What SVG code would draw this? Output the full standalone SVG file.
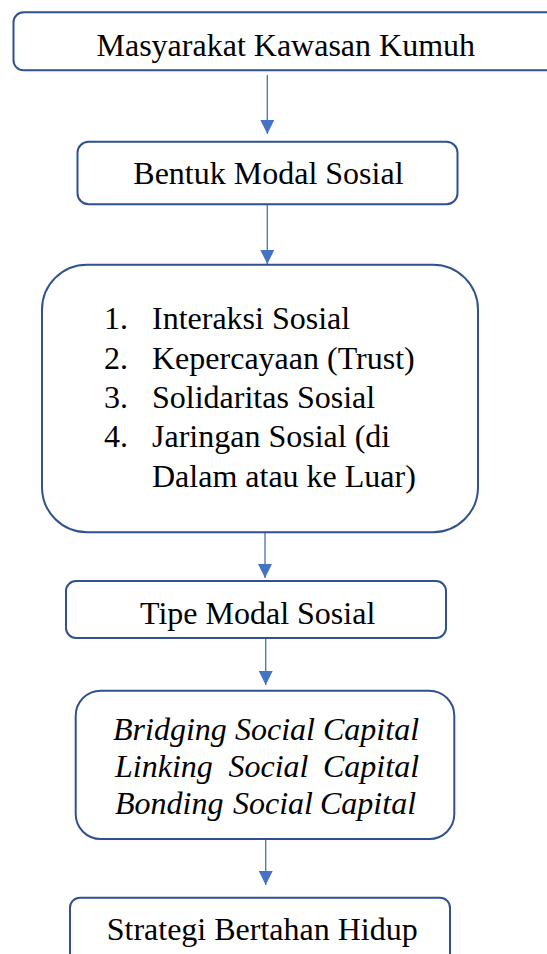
<svg xmlns="http://www.w3.org/2000/svg" width="547" height="954" viewBox="0 0 547 954">
<style>
.box{fill:#ffffff;stroke:#2F528F;stroke-width:2}
text{font-family:'Liberation Serif','Times New Roman','DejaVu Serif',serif;font-size:32px;fill:#000000}
.i{font-style:italic}
.c{stroke:#4472C4;stroke-width:1.3;fill:none}
</style>
<defs>
<marker id="ah" markerWidth="14" markerHeight="14" viewBox="0 0 14 14" refX="14" refY="7" orient="auto" markerUnits="userSpaceOnUse">
<path d="M0,0 L14,7 L0,14 Z" fill="#4472C4"/>
</marker>
</defs>
<rect width="547" height="954" fill="#ffffff"/>
<g id="connectors">
<line class="c" x1="267.3" y1="75" x2="267.3" y2="134" marker-end="url(#ah)"/>
<line class="c" x1="267.3" y1="204" x2="267.3" y2="264" marker-end="url(#ah)"/>
<line class="c" x1="265" y1="532.5" x2="265" y2="578" marker-end="url(#ah)"/>
<line class="c" x1="265.7" y1="638.5" x2="265.7" y2="685" marker-end="url(#ah)"/>
<line class="c" x1="265.7" y1="839" x2="265.7" y2="885" marker-end="url(#ah)"/>
</g>
<g id="node-masyarakat">
<rect class="box" x="13.5" y="12.3" width="552" height="58" rx="10"/>
<text font-family="Liberation Serif, serif" x="96.5" y="56">Masyarakat Kawasan Kumuh</text>
</g>
<g id="node-bentuk">
<rect class="box" x="77.5" y="141.7" width="380" height="62.5" rx="11"/>
<text font-family="Liberation Serif, serif" x="133.3" y="184.3">Bentuk Modal Sosial</text>
</g>
<g id="node-list">
<rect class="box" x="42" y="264.7" width="436" height="267.5" rx="45"/>
<text font-family="Liberation Serif, serif" x="104" y="329">1.</text>
<text font-family="Liberation Serif, serif" x="152" y="329">Interaksi Sosial</text>
<text font-family="Liberation Serif, serif" x="104" y="368.5">2.</text>
<text font-family="Liberation Serif, serif" x="152" y="368.5">Kepercayaan (Trust)</text>
<text font-family="Liberation Serif, serif" x="104" y="408">3.</text>
<text font-family="Liberation Serif, serif" x="152" y="408">Solidaritas Sosial</text>
<text font-family="Liberation Serif, serif" x="104" y="447.3">4.</text>
<text font-family="Liberation Serif, serif" x="152" y="447.3">Jaringan Sosial (di</text>
<text font-family="Liberation Serif, serif" x="152" y="486.7">Dalam atau ke Luar)</text>
</g>
<g id="node-tipe">
<rect class="box" x="66" y="581" width="380" height="57" rx="10"/>
<text font-family="Liberation Serif, serif" x="140" y="623.5">Tipe Modal Sosial</text>
</g>
<g id="node-capital">
<rect class="box" x="75.7" y="690.7" width="378.6" height="148.3" rx="25"/>
<text class="i" font-family="Liberation Serif, serif" y="740"><tspan x="113">Bridging</tspan><tspan x="235">Social</tspan><tspan x="323">Capital</tspan></text>
<text class="i" font-family="Liberation Serif, serif" y="777"><tspan x="115">Linking</tspan><tspan x="228.5">Social</tspan><tspan x="323">Capital</tspan></text>
<text class="i" font-family="Liberation Serif, serif" y="814"><tspan x="115">Bonding</tspan><tspan x="233">Social</tspan><tspan x="320">Capital</tspan></text>
</g>
<g id="node-strategi">
<rect class="box" x="70" y="897.7" width="380" height="70" rx="10"/>
<text font-family="Liberation Serif, serif" x="106.7" y="939.5">Strategi Bertahan Hidup</text>
</g>
</svg>
